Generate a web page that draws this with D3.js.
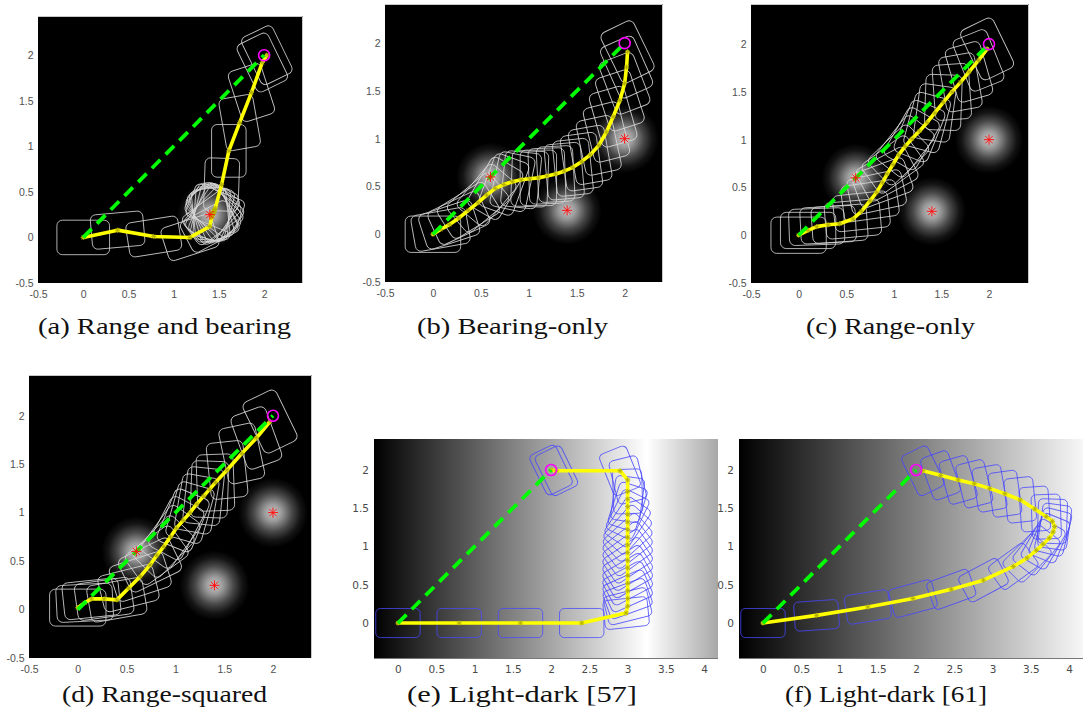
<!DOCTYPE html>
<html><head><meta charset="utf-8">
<script src="https://cdn.jsdelivr.net/npm/d3@7"></script>
<style>body{margin:0;background:#fff}</style>
</head><body>
<svg id="fig" width="1083" height="719"></svg>
<script>
// Planned belief-space trajectories: waypoints as [x, y, orientation in degrees]
const trajRangeBearing = [
  [0,0,0],[0.38,0.08,5],[0.78,0.01,9],[1.18,0.0,18],[1.40,0.12,28],
  [1.42,0.22,36],[1.43,0.24,46],[1.43,0.26,56],[1.44,0.27,66],[1.43,0.27,76],
  [1.42,0.26,86],[1.41,0.25,96],[1.42,0.26,106],[1.43,0.27,116],[1.44,0.28,126],
  [1.45,0.29,136],[1.45,0.30,146],[1.46,0.32,158],
  [1.53,0.58,88],[1.61,0.95,90],[1.73,1.26,100],[1.86,1.59,108],[1.98,1.92,116],[2.03,2.0,116]
];
const trajBearingOnly = [
  [0,0,0],[0.08,0.05,10],[0.17,0.10,18],[0.27,0.17,25],[0.37,0.25,32],[0.47,0.33,40],
  [0.56,0.41,50],[0.65,0.48,60],[0.74,0.52,70],[0.83,0.55,78],[0.92,0.57,84],
  [1.01,0.58,88],[1.10,0.59,90],[1.19,0.61,92],[1.28,0.63,93],[1.37,0.66,95],
  [1.46,0.70,96],[1.55,0.76,98],[1.64,0.83,100],[1.73,0.93,102],[1.81,1.07,104],
  [1.88,1.23,106],[1.95,1.40,108],[2.0,1.58,111],[2.02,1.75,114],[2.03,1.91,116]
];
const trajRangeOnly = [
  [0,0,0],[0.10,0.05,0],[0.19,0.09,2],[0.31,0.11,3],[0.43,0.12,4],[0.57,0.17,5],
  [0.66,0.25,6],[0.75,0.36,8],[0.82,0.45,12],[0.88,0.55,20],[0.93,0.64,28],
  [0.99,0.74,36],[1.05,0.84,44],[1.12,0.93,52],[1.19,1.01,60],[1.27,1.09,68],
  [1.35,1.18,75],[1.43,1.28,82],[1.52,1.39,88],[1.61,1.50,94],[1.70,1.60,100],
  [1.79,1.71,106],[1.89,1.83,112],[1.98,1.95,116]
];
const trajRangeSquared = [
  [0,0.02,0],[0.07,0.07,3],[0.14,0.11,6],[0.27,0.11,8],[0.40,0.10,10],[0.52,0.22,14],
  [0.64,0.34,18],[0.74,0.46,26],[0.81,0.56,36],[0.88,0.65,46],[0.95,0.75,54],
  [1.01,0.84,62],[1.08,0.92,68],[1.15,1.00,74],[1.22,1.09,80],[1.29,1.17,84],
  [1.35,1.24,88],[1.41,1.31,92],[1.53,1.44,96],[1.68,1.61,102],[1.83,1.77,110],[1.97,1.94,116]
];
const trajLightDark57 = [
  [0,0,0],[0.8,0,0],[1.6,0,0],[2.4,0,0],[2.98,0.13,6],[3.0,0.22,14],[3.0,0.32,20],
  [3.0,0.42,24],[3.0,0.52,28],[3.0,0.62,30],[3.0,0.72,32],[3.0,0.82,34],[3.0,0.92,36],
  [3.0,1.02,38],[3.0,1.12,42],[3.0,1.22,48],[3.0,1.32,56],[3.0,1.42,64],[3.0,1.52,72],
  [3.0,1.62,82],[3.0,1.72,92],[3.0,1.87,104],[2.90,1.99,112],[2.07,1.99,116],[2.0,2.0,116]
];
const trajLightDark61 = [
  [0,0,0],[0.70,0.10,4],[1.37,0.21,9],[1.96,0.32,15],[2.46,0.44,20],[2.88,0.56,28],
  [3.27,0.74,36],[3.45,0.85,45],[3.57,0.95,52],[3.66,1.03,60],[3.74,1.11,68],
  [3.79,1.19,76],[3.81,1.26,82],[3.78,1.33,88],[3.70,1.39,92],[3.55,1.49,94],
  [3.36,1.61,96],[3.16,1.69,98],[2.96,1.76,100],[2.76,1.82,104],[2.55,1.87,106],
  [2.32,1.93,110],[2.09,1.99,116]
];

// Landmarks (beacons) for the sensing models
const beaconsRangeBearing = [[1.4,0.25]];
const beaconsThree = [[0.6,0.6],[1.4,0.25],[2.0,1.0]];

const startPoint = [0,0];
const goalPoint = [2,2];

// Light-dark fields: brightness at positions along x
const lightField57X = [-0.313, 3.25, 4.18];
const lightField57Level = [0, 1, 0.66];
const lightField61X = [-0.313, 4.18];
const lightField61Level = [0, 0.97];

// Tick values
const ticksSquare = [-0.5, 0, 0.5, 1, 1.5, 2];
const ticksLightX = [0, 0.5, 1, 1.5, 2, 2.5, 3, 3.5, 4];
const ticksLightY = [0, 0.5, 1, 1.5, 2];

const captions = ["(a) Range and bearing", "(b) Bearing-only", "(c) Range-only",
                  "(d) Range-squared", "(e) Light-dark [57]", "(f) Light-dark [61]"];

// Robot footprint (world units)
const BOX = {w: 0.58, h: 0.38, r: 0.06};

const panels = [
  {traj: trajRangeBearing, beacons: beaconsRangeBearing, bg: "dark", cap: captions[0],
   left: 38, right: 303, top: 16, bottom: 283, xDom: [-0.5, 2.43], yDom: [-0.5, 2.43],
   capX: 164.5, capY: 334, capW: 253},
  {traj: trajBearingOnly, beacons: beaconsThree, bg: "dark", cap: captions[1],
   left: 385, right: 663, top: 4, bottom: 282, xDom: [-0.5, 2.4], yDom: [-0.5, 2.41],
   capX: 512.5, capY: 334, capW: 191},
  {traj: trajRangeOnly, beacons: beaconsThree, bg: "dark", cap: captions[2],
   left: 751, right: 1029, top: 4, bottom: 283, xDom: [-0.5, 2.42], yDom: [-0.5, 2.42],
   capX: 890.5, capY: 334, capW: 169},
  {traj: trajRangeSquared, beacons: beaconsThree, bg: "dark", cap: captions[3],
   left: 29, right: 312, top: 375, bottom: 658, xDom: [-0.5, 2.4], yDom: [-0.5, 2.42],
   capX: 164.5, capY: 702, capW: 205},
  {traj: trajLightDark57, beacons: [], bg: "light", fieldX: lightField57X, fieldL: lightField57Level,
   cap: captions[4], left: 374, right: 718, top: 439, bottom: 659,
   xDom: [-0.313, 4.18], yDom: [-0.47, 2.405], capX: 522, capY: 702, capW: 230},
  {traj: trajLightDark61, beacons: [], bg: "light", fieldX: lightField61X, fieldL: lightField61Level,
   cap: captions[5], left: 739, right: 1083, top: 439, bottom: 659,
   xDom: [-0.313, 4.18], yDom: [-0.47, 2.405], capX: 886, capY: 702, capW: 202}
];

const svg = d3.select("#fig");
const defs = svg.append("defs");

// soft glow around each beacon
const glow = defs.append("radialGradient").attr("id", "glow");
[[0, 0.78], [0.25, 0.6], [0.55, 0.28], [0.8, 0.08], [1, 0]].forEach(([o, a]) =>
  glow.append("stop").attr("offset", o).attr("stop-color", "#fff").attr("stop-opacity", a));

// MATLAB-style '*' marker
function starPath(r) {
  const a = r * 0.72;
  return `M${-r},0H${r}M0,${-r}V${r}M${-a},${-a}L${a},${a}M${-a},${a}L${a},${-a}`;
}

panels.forEach((p, i) => {
  const x = d3.scaleLinear().domain(p.xDom).range([p.left, p.right]);
  const y = d3.scaleLinear().domain(p.yDom).range([p.bottom, p.top]);
  const k = (Math.abs(x(1) - x(0)) + Math.abs(y(1) - y(0))) / 2;
  const g = svg.append("g");

  defs.append("clipPath").attr("id", "clip" + i).append("rect")
    .attr("x", p.left).attr("y", p.top)
    .attr("width", p.right - p.left).attr("height", p.bottom - p.top);
  const plot = g.append("g").attr("clip-path", `url(#clip${i})`);

  if (p.bg === "dark") {
    plot.append("rect").attr("x", p.left).attr("y", p.top)
      .attr("width", p.right - p.left).attr("height", p.bottom - p.top).attr("fill", "#000");
  } else {
    const grad = defs.append("linearGradient").attr("id", "field" + i)
      .attr("gradientUnits", "userSpaceOnUse")
      .attr("x1", x(p.fieldX[0])).attr("x2", x(p.fieldX[p.fieldX.length - 1]))
      .attr("y1", 0).attr("y2", 0);
    const x0 = p.fieldX[0], span = p.fieldX[p.fieldX.length - 1] - x0;
    p.fieldX.forEach((fx, j) => {
      const v = Math.round(255 * p.fieldL[j]);
      grad.append("stop").attr("offset", (fx - x0) / span).attr("stop-color", d3.rgb(v, v, v));
    });
    plot.append("rect").attr("x", p.left).attr("y", p.top)
      .attr("width", p.right - p.left).attr("height", p.bottom - p.top)
      .attr("fill", `url(#field${i})`);
  }

  // beacon glow
  plot.selectAll(".glow").data(p.beacons).join("circle")
    .attr("cx", d => x(d[0])).attr("cy", d => y(d[1])).attr("r", 0.36 * k)
    .attr("fill", "url(#glow)");

  // robot footprints
  const boxColor = p.bg === "dark" ? "#d6d6d6" : "#4848ff";
  plot.selectAll(".box").data(p.traj).join("rect")
    .attr("x", -BOX.w / 2 * k).attr("y", -BOX.h / 2 * k)
    .attr("width", BOX.w * k).attr("height", BOX.h * k)
    .attr("rx", BOX.r * k).attr("ry", BOX.r * k)
    .attr("transform", d => `translate(${x(d[0])},${y(d[1])}) rotate(${-d[2]})`)
    .attr("fill", "none").attr("stroke", boxColor).attr("stroke-width", 0.9)
    .attr("stroke-opacity", p.bg === "dark" ? 0.9 : 0.85);

  // planned trajectory
  const line = d3.line().x(d => x(d[0])).y(d => y(d[1]));
  plot.append("path").datum(p.traj).attr("d", line)
    .attr("fill", "none").attr("stroke", "#ffff00").attr("stroke-width", 3.6)
    .attr("stroke-linejoin", "round").attr("stroke-linecap", "round");

  plot.selectAll(".wp").data(p.traj).join("path")
    .attr("transform", d => `translate(${x(d[0])},${y(d[1])})`)
    .attr("d", starPath(2.6)).attr("stroke", "#b4b000").attr("stroke-width", 0.9).attr("fill", "none");

  // straight-line reference from start to goal
  plot.append("path").datum([startPoint, goalPoint]).attr("d", line)
    .attr("fill", "none").attr("stroke", "#00ff00").attr("stroke-width", 3.8)
    .attr("stroke-dasharray", "12,7.5");

  // beacons
  plot.selectAll(".beacon").data(p.beacons).join("path")
    .attr("transform", d => `translate(${x(d[0])},${y(d[1])})`)
    .attr("d", starPath(5)).attr("stroke", "#ff1010").attr("stroke-width", 1).attr("fill", "none");

  // goal
  plot.append("circle").attr("cx", x(goalPoint[0])).attr("cy", y(goalPoint[1]))
    .attr("r", 5.5).attr("fill", "none").attr("stroke", "#ff00ff").attr("stroke-width", 1.6);

  // frame
  if (p.bg === "dark") {
    g.append("path").attr("d", `M${p.left},${p.top + 0.5}H${p.right - 0.5}V${p.bottom}`)
      .attr("fill", "none").attr("stroke", "#c8c8c8").attr("stroke-width", 1);
  } else {
    g.append("path").attr("d", `M${p.left},${p.bottom - 0.5}H${p.right}`)
      .attr("fill", "none").attr("stroke", "#777").attr("stroke-width", 1);
  }

  // axes
  const dark = p.bg === "dark";
  const fmt = d => String(d);
  const xAxis = d3.axisBottom(x).tickValues(dark ? ticksSquare : ticksLightX)
    .tickSize(0).tickPadding(dark ? 8 : 6.5).tickFormat(fmt);
  const yAxis = d3.axisLeft(y).tickValues(dark ? ticksSquare : ticksLightY)
    .tickSize(0).tickPadding(dark ? 4.5 : 5).tickFormat(fmt);
  const styleAxis = sel => {
    sel.select(".domain").remove();
    sel.selectAll("text")
      .attr("font-family", dark ? "'Liberation Sans', Arial, sans-serif" : "'DejaVu Sans', sans-serif")
      .attr("font-size", dark ? 10.5 : 10.5)
      .attr("fill", dark ? "#505050" : "#4a4a4a");
  };
  g.append("g").attr("transform", `translate(0,${p.bottom})`).call(xAxis).call(styleAxis);
  g.append("g").attr("transform", `translate(${p.left},0)`).call(yAxis).call(styleAxis);

  // caption
  g.append("text").attr("x", p.capX).attr("y", p.capY)
    .attr("text-anchor", "middle")
    .attr("font-family", "'Liberation Serif', 'Times New Roman', serif")
    .attr("font-size", 23.5).attr("fill", "#111")
    .attr("textLength", p.capW).attr("lengthAdjust", "spacingAndGlyphs")
    .text(p.cap);
});
</script>
</body></html>
